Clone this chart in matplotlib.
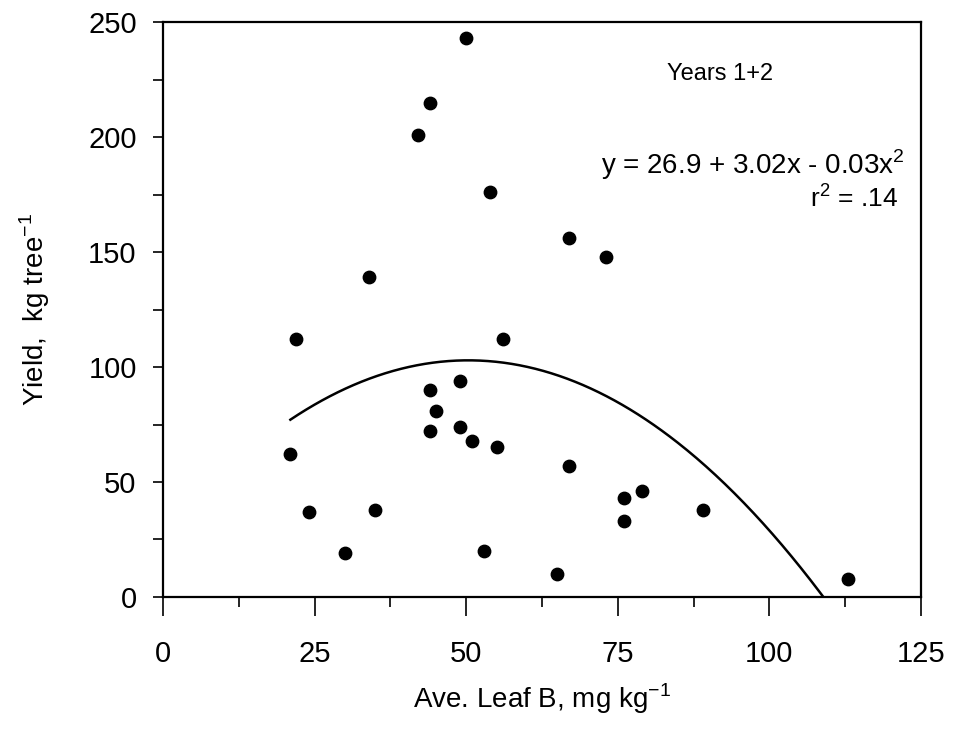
import numpy as np
import matplotlib.pyplot as plt

plt.rcParams['font.family'] = ['Liberation Sans', 'DejaVu Sans']

# leaf B (mg/kg) vs yield (kg/tree)
leaf_b = [22, 21, 24, 30, 34, 35, 42, 44, 44, 45, 44, 49, 49, 51, 50, 54,
          56, 55, 53, 65, 67, 67, 73, 76, 76, 79, 89, 113]
yield_kg = [112, 62, 37, 19, 139, 38, 201, 215, 90, 81, 72, 94, 74, 68, 243, 176,
            112, 65, 20, 10, 57, 156, 148, 43, 33, 46, 38, 8]

# fitted quadratic shown on the chart
coef = [26.9, 3.02, -0.03]
xfit = np.linspace(21, 125, 400)
yfit = coef[0] + coef[1] * xfit + coef[2] * xfit ** 2
keep = yfit >= 0

fig = plt.figure(figsize=(9.54, 7.36), dpi=100)
ax = fig.add_axes([0.1709, 0.1889, 0.7945, 0.7811])

ax.scatter(leaf_b, yield_kg, s=80, c='black', zorder=3)
ax.plot(xfit[keep], yfit[keep], color='black', lw=1.8)

ax.set_xlim(0, 125)
ax.set_ylim(0, 250)
ax.set_xticks([0, 25, 50, 75, 100, 125])
ax.set_xticks(np.arange(12.5, 125, 25), minor=True)
ax.set_yticks([0, 50, 100, 150, 200, 250])
ax.set_yticks(np.arange(25, 250, 50), minor=True)
ax.tick_params(axis='x', which='major', direction='out', length=14, width=1.2,
               pad=17, labelsize=21)
ax.tick_params(axis='x', which='minor', direction='out', length=7, width=1.2)
ax.tick_params(axis='y', which='both', direction='out', length=7, width=1.2,
               pad=12, labelsize=21)
for s in ax.spines.values():
    s.set_linewidth(1.6)

ax.set_xlabel(r'Ave. Leaf B, mg kg$^{\mathregular{-1}}$', fontsize=20, labelpad=10)
ax.set_ylabel(r'Yield,  kg tree$^{\mathregular{-1}}$', fontsize=20, labelpad=26)

ax.text(0.735, 0.91, 'Years 1+2', transform=ax.transAxes, ha='center',
        va='center', fontsize=17)
ax.text(0.978, 0.752, r'y = 26.9 + 3.02x - 0.03x$^{\mathregular{2}}$',
        transform=ax.transAxes, ha='right', va='center', fontsize=20)
ax.text(0.97, 0.695, r'r$^{\mathregular{2}}$ = .14', transform=ax.transAxes,
        ha='right', va='center', fontsize=19)

fig.savefig('out.png', dpi=100)
